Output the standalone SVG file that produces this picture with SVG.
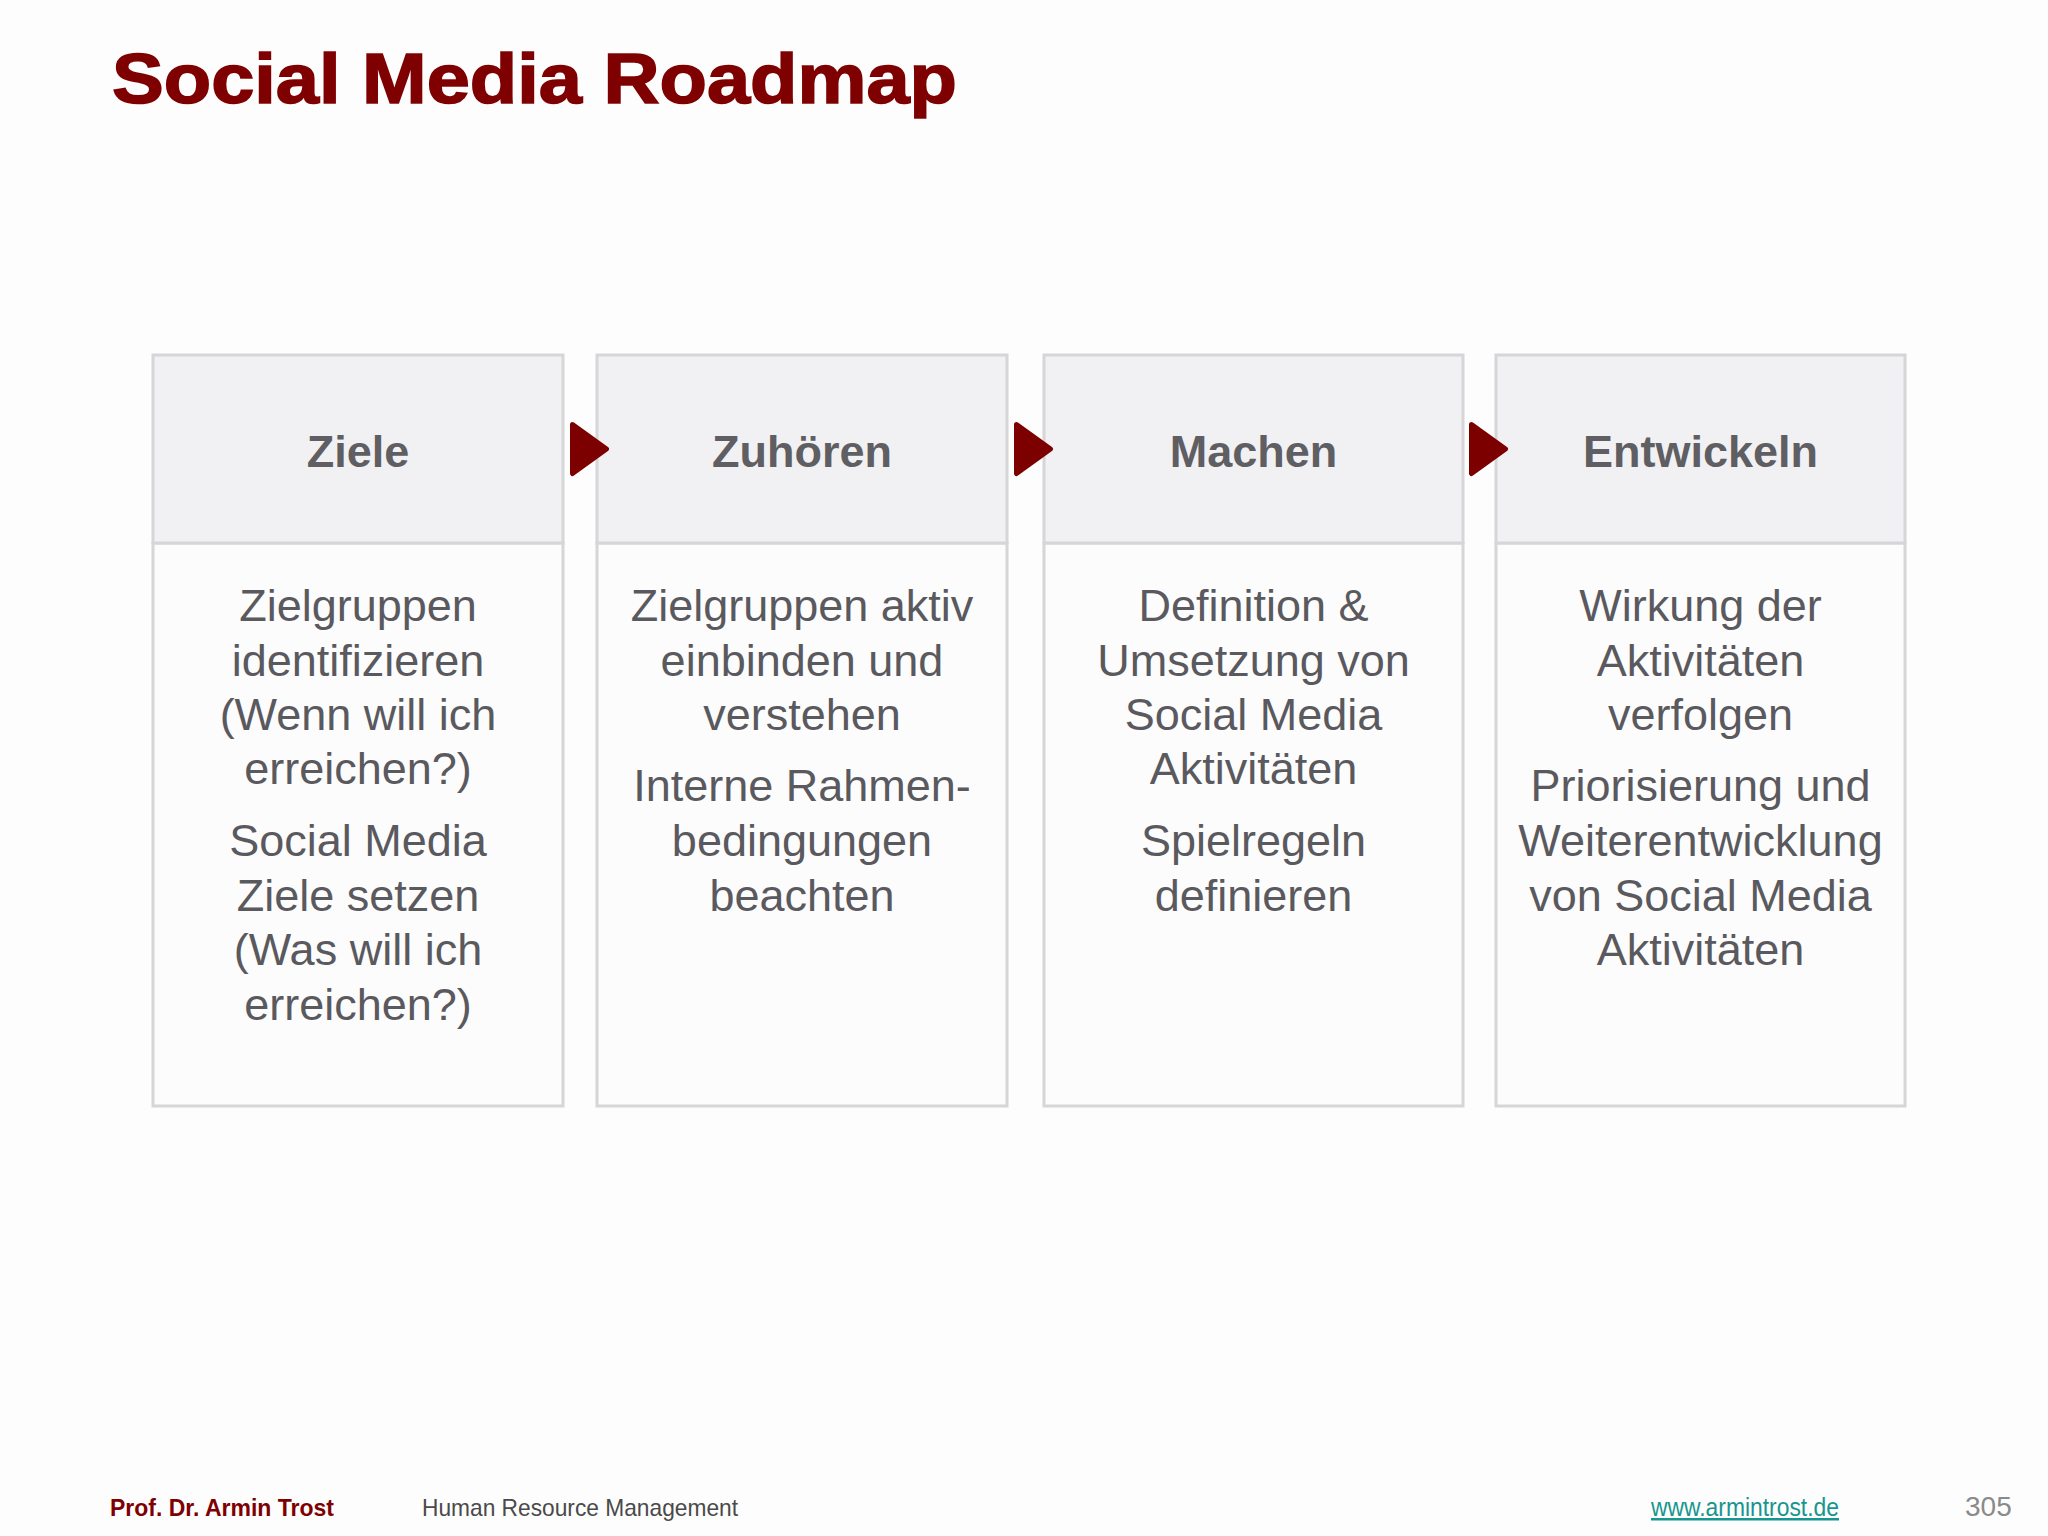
<svg xmlns="http://www.w3.org/2000/svg" width="2048" height="1536" viewBox="0 0 2048 1536">
<style>
.hdr{fill:#f1f0f3;stroke:#d6d5d8;stroke-width:3}
.body{fill:#fcfcfd;stroke:#d6d5d8;stroke-width:3}
.ht{font-family:"Liberation Sans",Arial,sans-serif;font-weight:bold;font-size:45px;fill:#5f5e63;text-anchor:middle}
.bt{font-family:"Liberation Sans",Arial,sans-serif;font-size:45px;fill:#5a595e;text-anchor:middle}
.arr{fill:#7d0000;stroke:#7d0000;stroke-width:5;stroke-linejoin:round}
</style>
<rect x="0" y="0" width="2048" height="1536" fill="#fdfdfd"/>
<text x="112" y="103" font-family="Liberation Sans,Arial,sans-serif" font-weight="bold" font-size="71" fill="#7f0000" stroke="#7f0000" stroke-width="1.6" textLength="845" lengthAdjust="spacingAndGlyphs">Social Media Roadmap</text>

<g id="node-ziele">
<rect class="body" x="153" y="543" width="410" height="563"/>
<rect class="hdr" x="153" y="355" width="410" height="188"/>
<text class="ht" x="358" y="467">Ziele</text>
<text class="bt" x="358" y="621">Zielgruppen</text>
<text class="bt" x="358" y="676">identifizieren</text>
<text class="bt" x="358" y="730">(Wenn will ich</text>
<text class="bt" x="358" y="784">erreichen?)</text>
<text class="bt" x="358" y="856">Social Media</text>
<text class="bt" x="358" y="911">Ziele setzen</text>
<text class="bt" x="358" y="965">(Was will ich</text>
<text class="bt" x="358" y="1020">erreichen?)</text>
</g>

<g id="node-zuhoeren">
<rect class="body" x="597" y="543" width="410" height="563"/>
<rect class="hdr" x="597" y="355" width="410" height="188"/>
<text class="ht" x="802" y="467">Zuhören</text>
<text class="bt" x="802" y="621">Zielgruppen aktiv</text>
<text class="bt" x="802" y="676">einbinden und</text>
<text class="bt" x="802" y="730">verstehen</text>
<text class="bt" x="802" y="801">Interne Rahmen-</text>
<text class="bt" x="802" y="856">bedingungen</text>
<text class="bt" x="802" y="911">beachten</text>
</g>

<g id="node-machen">
<rect class="body" x="1044" y="543" width="419" height="563"/>
<rect class="hdr" x="1044" y="355" width="419" height="188"/>
<text class="ht" x="1253.5" y="467">Machen</text>
<text class="bt" x="1253.5" y="621">Definition &amp;</text>
<text class="bt" x="1253.5" y="676">Umsetzung von</text>
<text class="bt" x="1253.5" y="730">Social Media</text>
<text class="bt" x="1253.5" y="784">Aktivitäten</text>
<text class="bt" x="1253.5" y="856">Spielregeln</text>
<text class="bt" x="1253.5" y="911">definieren</text>
</g>

<g id="node-entwickeln">
<rect class="body" x="1496" y="543" width="409" height="563"/>
<rect class="hdr" x="1496" y="355" width="409" height="188"/>
<text class="ht" x="1700.5" y="467">Entwickeln</text>
<text class="bt" x="1700.5" y="621">Wirkung der</text>
<text class="bt" x="1700.5" y="676">Aktivitäten</text>
<text class="bt" x="1700.5" y="730">verfolgen</text>
<text class="bt" x="1700.5" y="801">Priorisierung und</text>
<text class="bt" x="1700.5" y="856">Weiterentwicklung</text>
<text class="bt" x="1700.5" y="911">von Social Media</text>
<text class="bt" x="1700.5" y="965">Aktivitäten</text>
</g>

<g id="connectors">
<polygon class="arr" points="572.5,424.5 606.5,449 572.5,473.5"/>
<polygon class="arr" points="1016.5,424.5 1050.5,449 1016.5,473.5"/>
<polygon class="arr" points="1471.5,424.5 1505.5,449 1471.5,473.5"/>
</g>

<g id="footer">
<text x="110" y="1516" font-family="Liberation Sans,Arial,sans-serif" font-weight="bold" font-size="24" fill="#7f0000" textLength="224" lengthAdjust="spacingAndGlyphs">Prof. Dr. Armin Trost</text>
<text x="422" y="1516" font-family="Liberation Sans,Arial,sans-serif" font-size="24" fill="#4a4a4a" textLength="316" lengthAdjust="spacingAndGlyphs">Human Resource Management</text>
<text x="1651" y="1516" font-family="Liberation Sans,Arial,sans-serif" font-size="25" fill="#17958f" text-decoration="underline" textLength="188" lengthAdjust="spacingAndGlyphs">www.armintrost.de</text>
<text x="1965" y="1516" font-family="Liberation Sans,Arial,sans-serif" font-size="28" fill="#8a8a8a">305</text>
</g>
</svg>
